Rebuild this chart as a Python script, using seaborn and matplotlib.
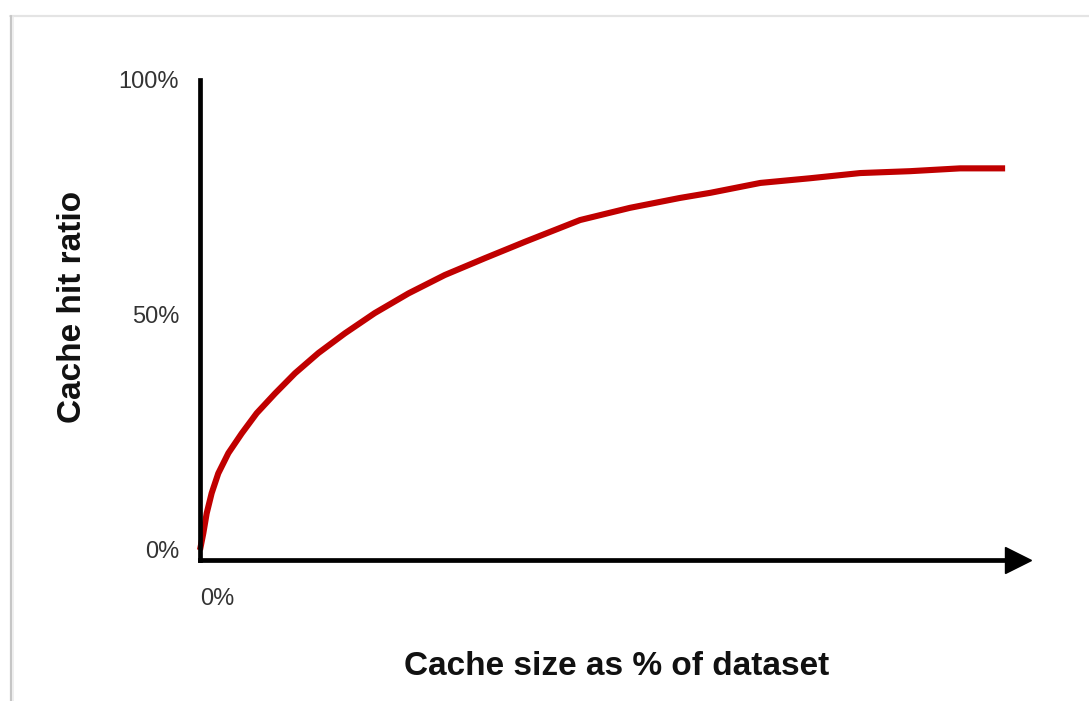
import numpy as np
import matplotlib
matplotlib.use("Agg")
import matplotlib.pyplot as plt
from matplotlib.lines import Line2D
import pandas as pd
import seaborn as sns

# values (x: % of dataset, y: hit ratio %)
cache_size = [0, 0.41, 0.83, 1.45, 2.27, 3.52, 5.18, 7.04, 9.32, 11.8,
              14.7, 18.0, 21.7, 25.9, 30.4, 35.4, 40.4, 47.2, 53.4, 59.6,
              63.4, 69.6, 75.8, 82.0, 88.2, 94.4, 100]
hit_ratio = [0, 3.55, 7.8, 12.1, 16.3, 20.6, 24.8, 29.1, 33.3, 37.6,
             41.9, 46.1, 50.4, 54.6, 58.5, 62.1, 65.6, 70.2, 72.8, 74.9,
             76.0, 78.1, 79.1, 80.2, 80.6, 81.2, 81.2]
y_ticks = [0, 50, 100]
y_tick_labels = ["0%", "50%", "100%"]
x_ticks = [0]
x_tick_labels = ["0%"]

sns.set_theme(style="white")
plt.rcParams["font.family"] = ["Liberation Sans", "DejaVu Sans"]

W, H = 1089, 701
fig = plt.figure(figsize=(W / 100, H / 100), dpi=100)

# screenshot frame: light grey border at top and left
fig.add_artist(Line2D([10 / W, 1], [1 - 16 / H, 1 - 16 / H], color="#e4e4e4", lw=1.6))
fig.add_artist(Line2D([11 / W, 11 / W], [0, 1 - 16 / H], color="#c6c6c6", lw=1.6))
fig.add_artist(Line2D([13 / W, 13 / W], [0, 1 - 17 / H], color="#ececec", lw=1.2))

ax = fig.add_axes([200 / W, 1 - 560 / H, 818 / W, 480 / H])

df = pd.DataFrame({"size": cache_size, "ratio": hit_ratio})
sns.lineplot(data=df, x="size", y="ratio", ax=ax, color="#c00000",
             linewidth=4.4, sort=False, estimator=None)
for ln in ax.get_lines():
    ln.set_solid_capstyle("butt")
    ln.set_solid_joinstyle("round")
    ln.set_clip_on(False)

ax.set_xlim(0, 101.6)
ax.set_ylim(-2.13, 100)

for side in ["top", "right"]:
    ax.spines[side].set_visible(False)
for side in ["left", "bottom"]:
    ax.spines[side].set_color("black")
    ax.spines[side].set_linewidth(3.4)
    ax.spines[side].set_capstyle("projecting")

# arrow head at the end of the x axis
ax.plot(1, 0, ">", color="black", markersize=19, transform=ax.transAxes,
        clip_on=False)

ax.set_yticks(y_ticks)
ax.set_yticklabels(y_tick_labels)
ax.set_xticks(x_ticks)
ax.set_xticklabels(x_tick_labels, ha="left")
ax.tick_params(axis="y", length=0, pad=15, labelsize=17, labelcolor="#333333")
ax.tick_params(axis="x", length=0, pad=20, labelsize=17, labelcolor="#333333")

ax.set_xlabel("Cache size as % of dataset", fontsize=24, fontweight="bold",
              color="#111111", labelpad=30)
ax.set_ylabel("Cache hit ratio", fontsize=24, fontweight="bold",
              color="#111111", labelpad=22)
ax.xaxis.label.set_x(0.509)
ax.yaxis.label.set_y(0.527)
ax.grid(False)

fig.savefig("out.png", dpi=100, facecolor="white")
